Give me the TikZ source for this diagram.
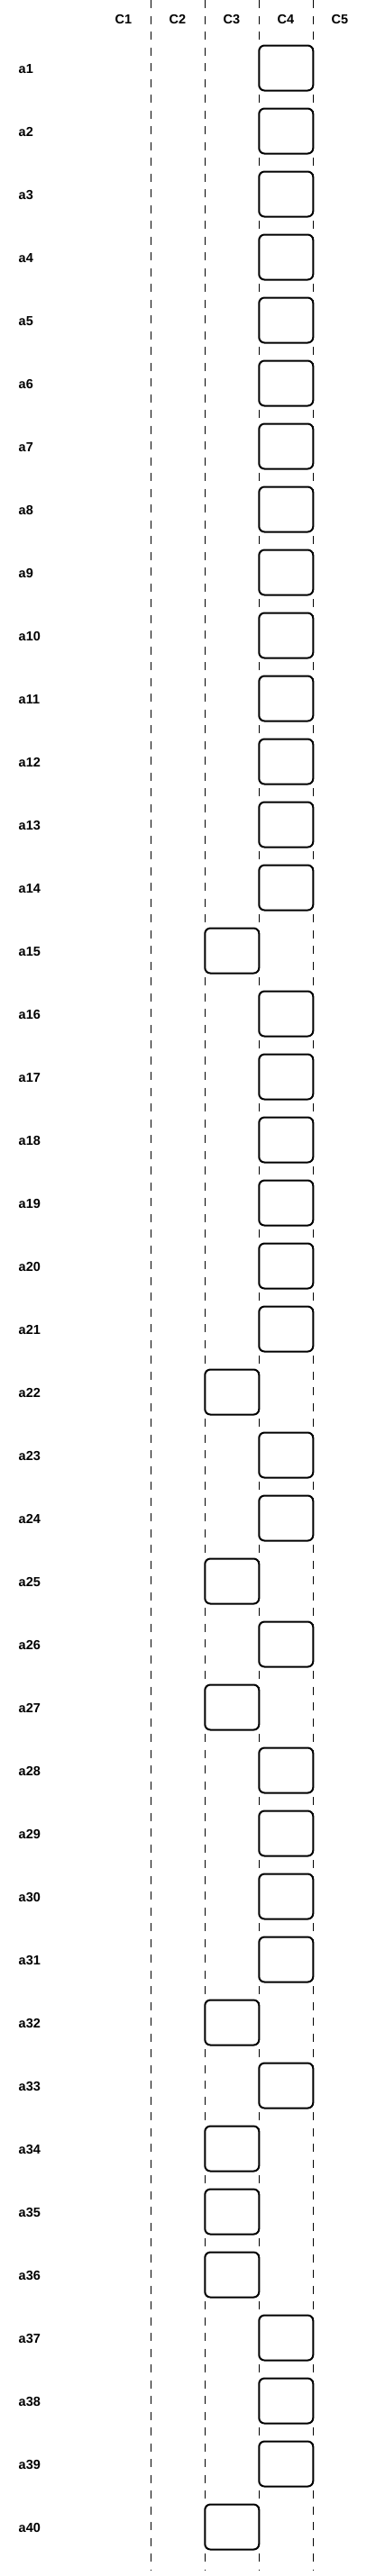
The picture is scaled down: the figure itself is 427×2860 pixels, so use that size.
\documentclass[tikz,border=0pt]{standalone}
\usepackage{fontspec}
\setmainfont{Liberation Sans}
\begin{document}
\begin{tikzpicture}[x=1pt,y=-1pt,
  lab/.style={font=\fontsize{14.5}{17}\selectfont\bfseries, inner sep=0pt},
  sepline/.style={line width=1pt, dash pattern=on 9pt off 8.5pt},
  slot/.style={draw, line width=2pt, rounded corners=6pt, fill=white,
    minimum width=60pt, minimum height=50pt, inner sep=0pt}]
\useasboundingbox (0,0) rectangle (427,2860);
% column separators
\foreach \i/\x in {1/167.3,2/227.3,3/287.3,4/347.3}{
  \coordinate (t\i) at (\x,0);
  \coordinate (u\i) at (\x,2853);
  \draw[sepline] (t\i) -- (u\i);
}
% headers
\foreach \i in {1,...,5}{
  \node[lab, anchor=base] (h\i) at ({77+60*\i},26) {C\i};
}
% rows
\foreach \i in {1,...,40}{
  \node[lab, anchor=base west] (r\i) at (20.5,{81+70*(\i-1)}) {a\i};
}
% boxes in column C4
\foreach \i in {1,...,14,16,17,18,19,20,21,23,24,26,28,29,30,31,33,37,38,39}{
  \node[slot] (b\i) at (317.3,{75.5+70*(\i-1)}) {};
}
% boxes in column C3
\foreach \i in {15,22,25,27,32,34,35,36,40}{
  \node[slot] (b\i) at (257.3,{75.5+70*(\i-1)}) {};
}
\end{tikzpicture}
\end{document}
